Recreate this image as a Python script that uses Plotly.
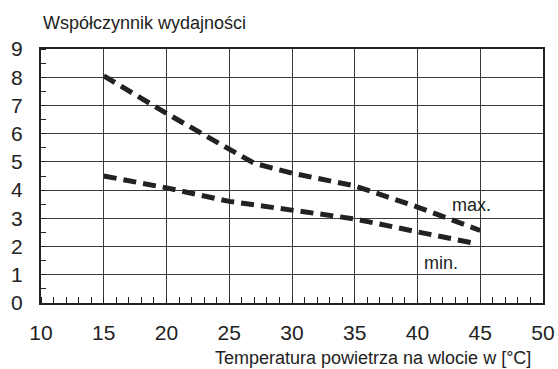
import plotly.graph_objects as go

# Coefficient of performance vs. inlet air temperature
temp_max = [15, 20, 25, 27, 30, 33, 35, 40, 45]
cop_max = [8.05, 6.72, 5.45, 4.95, 4.6, 4.35, 4.15, 3.4, 2.57]

temp_min = [15, 20, 25, 30, 35, 40, 44.5]
cop_min = [4.5, 4.08, 3.6, 3.27, 2.98, 2.52, 2.12]

x_ticks = [10, 15, 20, 25, 30, 35, 40, 45, 50]
y_ticks = [0, 1, 2, 3, 4, 5, 6, 7, 8, 9]

ink = "#222222"
font = "Liberation Sans, Arial, sans-serif"

fig = go.Figure()
for xs, ys in ((temp_max, cop_max), (temp_min, cop_min)):
    fig.add_trace(go.Scatter(
        x=xs, y=ys, mode="lines",
        line=dict(color=ink, width=5, dash="13px,7px"),
        hoverinfo="skip", showlegend=False,
    ))

fig.add_annotation(x=44.3, y=3.48, text="max.", showarrow=False,
                   font=dict(size=18, color=ink, family=font))
fig.add_annotation(x=41.9, y=1.42, text="min.", showarrow=False,
                   font=dict(size=18, color=ink, family=font))

fig.add_annotation(xref="paper", yref="paper", x=0, y=1, xanchor="left",
                   yanchor="middle", yshift=26, showarrow=False,
                   text="Współczynnik wydajności",
                   font=dict(size=18, color=ink, family=font))
fig.add_annotation(xref="paper", yref="paper", x=0.98, y=0, xanchor="right",
                   yanchor="middle", yshift=-55, showarrow=False,
                   text="Temperatura powietrza na wlocie w [°C]",
                   font=dict(size=18, color=ink, family=font))

fig.update_xaxes(
    range=[10, 50], tickvals=x_ticks, ticks="", ticklabelstandoff=10,
    showgrid=True, gridcolor="#3a3a3a", gridwidth=1,
    showline=True, linecolor=ink, linewidth=2, mirror=True,
    zeroline=False, automargin=False,
    tickfont=dict(size=21, color=ink, family=font),
    minor=dict(dtick=1, ticks="inside", ticklen=6, tickcolor=ink,
               tickwidth=1, showgrid=False),
)
fig.update_yaxes(
    range=[0, 9], tickvals=y_ticks, ticks="", ticklabelstandoff=12,
    showgrid=True, gridcolor="#3a3a3a", gridwidth=1,
    showline=True, linecolor=ink, linewidth=2, mirror=True,
    zeroline=False, automargin=False,
    tickfont=dict(size=21, color=ink, family=font),
    minor=dict(dtick=0.5, ticks="inside", ticklen=5, tickcolor=ink,
               tickwidth=1, showgrid=False),
)

fig.update_layout(
    width=558, height=369,
    margin=dict(l=41, r=15, t=49, b=66),
    paper_bgcolor="white", plot_bgcolor="white",
    font=dict(family=font, color=ink),
)

fig.write_html("out.html")
